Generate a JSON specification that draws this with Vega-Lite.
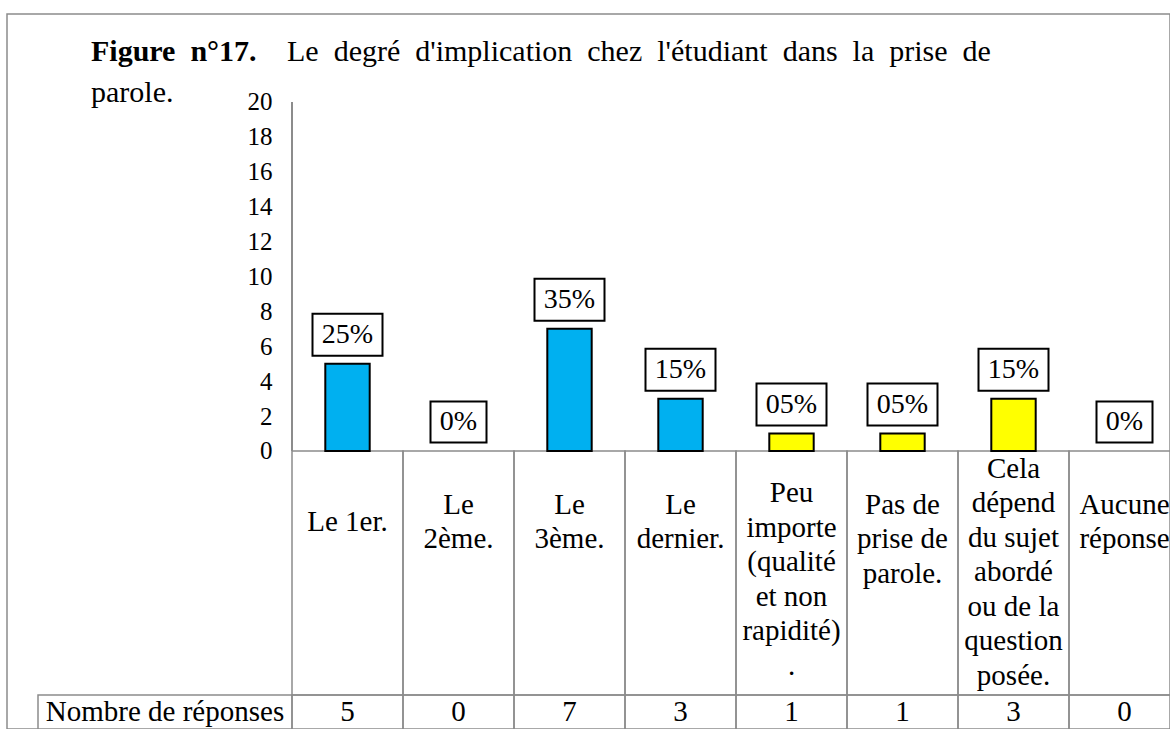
{
  "$schema": "https://vega.github.io/schema/vega-lite/v6.json",
  "width": 1163,
  "height": 715,
  "autosize": {"type": "none"},
  "padding": {"left": 7, "top": 14, "right": 0, "bottom": 0},
  "background": "white",
  "config": {
    "view": {"stroke": "#8c8c8c", "strokeWidth": 1.5},
    "font": "Liberation Serif, Times New Roman, serif"
  },
  "title": {
    "text": "Figure\u00a0 n°17.",
    "subtitle": "parole.",
    "anchor": "start",
    "frame": "group",
    "orient": "top",
    "offset": -94,
    "dx": 84,
    "font": "Liberation Serif, Times New Roman, serif",
    "fontSize": 30,
    "fontWeight": "bold",
    "color": "black",
    "subtitleFont": "Liberation Serif, Times New Roman, serif",
    "subtitleFontSize": 30,
    "subtitleFontWeight": "normal",
    "subtitleColor": "black",
    "subtitlePadding": 11
  },
  "datasets": {
    "reponses": [
      {"cat": "Le 1er.", "label": ["Le 1er."], "n": 5, "pct": "25%", "groupe": "rang"},
      {"cat": "Le 2ème.", "label": ["Le", "2ème."], "n": 0, "pct": "0%", "groupe": "rang"},
      {"cat": "Le 3ème.", "label": ["Le", "3ème."], "n": 7, "pct": "35%", "groupe": "rang"},
      {"cat": "Le dernier.", "label": ["Le", "dernier."], "n": 3, "pct": "15%", "groupe": "rang"},
      {"cat": "Peu importe (qualité et non rapidité).", "label": ["Peu", "importe", "(qualité", "et non", "rapidité)", "."], "n": 1, "pct": "05%", "groupe": "autre"},
      {"cat": "Pas de prise de parole.", "label": ["Pas de", "prise de", "parole."], "n": 1, "pct": "05%", "groupe": "autre"},
      {"cat": "Cela dépend du sujet abordé ou de la question posée.", "label": ["Cela", "dépend", "du sujet", "abordé", "ou de la", "question", "posée."], "n": 3, "pct": "15%", "groupe": "autre"},
      {"cat": "Aucune réponse", "label": ["Aucune", "réponse"], "n": 0, "pct": "0%", "groupe": "autre"}
    ]
  },
  "layer": [
    {
      "data": {"values": [{"legende": "Le\u00a0 degré\u00a0 d'implication\u00a0 chez\u00a0 l'étudiant\u00a0 dans\u00a0 la\u00a0 prise\u00a0 de"}]},
      "mark": {"type": "text", "align": "left", "baseline": "top", "fontSize": 30, "font": "Liberation Serif, Times New Roman, serif", "color": "black"},
      "encoding": {
        "x": {"field": "legende", "type": "nominal", "bandPosition": 0, "axis": null,
              "scale": {"type": "band", "range": [280, 1163], "paddingInner": 0, "paddingOuter": 0}},
        "y": {"datum": 23.7, "type": "quantitative", "scale": {"domain": [-15.93, 25.04], "nice": false, "zero": false},
              "axis": {"values": [0, 2, 4, 6, 8, 10, 12, 14, 16, 18, 20], "offset": -285, "labelPadding": 20, "ticks": false, "domain": false, "grid": false, "labelFont": "Liberation Serif, Times New Roman, serif", "labelFontSize": 25, "labelColor": "black", "labelOverlap": false, "title": null}},
        "text": {"field": "legende", "type": "nominal"}
      }
    },
    {
      "data": {"values": [{"entete": "Nombre de réponses"}]},
      "encoding": {
        "x": {"field": "entete", "type": "nominal", "axis": null,
              "scale": {"type": "band", "domain": ["Nombre de réponses"], "range": [31, 285], "paddingInner": 0, "paddingOuter": 0}}
      },
      "layer": [
        {
          "mark": {"type": "rect", "fill": "transparent", "stroke": "#8c8c8c", "strokeWidth": 1.5},
          "encoding": {
            "y": {"datum": -13.98, "type": "quantitative", "scale": {"domain": [-15.93, 25.04], "nice": false, "zero": false},
                  "axis": {"values": [0, 2, 4, 6, 8, 10, 12, 14, 16, 18, 20], "offset": -285, "labelPadding": 20, "ticks": false, "domain": false, "grid": false, "labelFont": "Liberation Serif, Times New Roman, serif", "labelFontSize": 25, "labelColor": "black", "labelOverlap": false, "title": null}},
            "y2": {"datum": -17}
          }
        },
        {
          "mark": {"type": "text", "baseline": "middle", "align": "center", "fontSize": 29, "font": "Liberation Serif, Times New Roman, serif", "color": "black"},
          "encoding": {
            "y": {"datum": -14.96, "type": "quantitative", "scale": {"domain": [-15.93, 25.04], "nice": false, "zero": false},
                  "axis": {"values": [0, 2, 4, 6, 8, 10, 12, 14, 16, 18, 20], "offset": -285, "labelPadding": 20, "ticks": false, "domain": false, "grid": false, "labelFont": "Liberation Serif, Times New Roman, serif", "labelFontSize": 25, "labelColor": "black", "labelOverlap": false, "title": null}},
            "text": {"field": "entete", "type": "nominal"}
          }
        }
      ]
    },
    {
      "data": {"name": "reponses"},
      "encoding": {
        "x": {"field": "cat", "type": "nominal", "sort": null, "axis": null,
              "scale": {"type": "band", "domain": ["Le 1er.", "Le 2ème.", "Le 3ème.", "Le dernier.", "Peu importe (qualité et non rapidité).", "Pas de prise de parole.", "Cela dépend du sujet abordé ou de la question posée.", "Aucune réponse"],
                        "range": [285, 1173], "paddingInner": 0, "paddingOuter": 0}}
      },
      "layer": [
        {
          "mark": {"type": "rect", "fill": "transparent", "stroke": "#8c8c8c", "strokeWidth": 1.5},
          "encoding": {
            "y": {"datum": 0, "type": "quantitative", "scale": {"domain": [-15.93, 25.04], "nice": false, "zero": false},
                  "axis": {"values": [0, 2, 4, 6, 8, 10, 12, 14, 16, 18, 20], "offset": -285, "labelPadding": 20, "ticks": false, "domain": false, "grid": false, "labelFont": "Liberation Serif, Times New Roman, serif", "labelFontSize": 25, "labelColor": "black", "labelOverlap": false, "title": null}},
            "y2": {"datum": -13.98}
          }
        },
        {
          "mark": {"type": "rect", "fill": "transparent", "stroke": "#8c8c8c", "strokeWidth": 1.5},
          "encoding": {
            "y": {"datum": -13.98, "type": "quantitative", "scale": {"domain": [-15.93, 25.04], "nice": false, "zero": false},
                  "axis": {"values": [0, 2, 4, 6, 8, 10, 12, 14, 16, 18, 20], "offset": -285, "labelPadding": 20, "ticks": false, "domain": false, "grid": false, "labelFont": "Liberation Serif, Times New Roman, serif", "labelFontSize": 25, "labelColor": "black", "labelOverlap": false, "title": null}},
            "y2": {"datum": -17}
          }
        },
        {
          "mark": {"type": "rule", "stroke": "#8c8c8c", "strokeWidth": 1.5},
          "encoding": {
            "x": {"datum": "Le 1er.", "type": "nominal", "bandPosition": 0},
            "y": {"datum": 0, "type": "quantitative", "scale": {"domain": [-15.93, 25.04], "nice": false, "zero": false},
                  "axis": {"values": [0, 2, 4, 6, 8, 10, 12, 14, 16, 18, 20], "offset": -285, "labelPadding": 20, "ticks": false, "domain": false, "grid": false, "labelFont": "Liberation Serif, Times New Roman, serif", "labelFontSize": 25, "labelColor": "black", "labelOverlap": false, "title": null}},
            "y2": {"datum": 20}
          }
        },
        {
          "transform": [{"filter": "datum.n > 0"}],
          "mark": {"type": "bar", "width": {"band": 0.4}, "stroke": "black", "strokeWidth": 2},
          "encoding": {
            "y": {"field": "n", "type": "quantitative", "scale": {"domain": [-15.93, 25.04], "nice": false, "zero": false},
                  "axis": {"values": [0, 2, 4, 6, 8, 10, 12, 14, 16, 18, 20], "offset": -285, "labelPadding": 20, "ticks": false, "domain": false, "grid": false, "labelFont": "Liberation Serif, Times New Roman, serif", "labelFontSize": 25, "labelColor": "black", "labelOverlap": false, "title": null}},
            "y2": {"datum": 0},
            "color": {"field": "groupe", "type": "nominal", "legend": null,
                      "scale": {"domain": ["rang", "autre"], "range": ["#00B0F0", "#FFFF00"]}}
          }
        },
        {
          "mark": {"type": "point", "filled": true, "fill": "white", "stroke": "black", "strokeWidth": 2, "opacity": 1, "yOffset": -29},
          "encoding": {
            "y": {"field": "n", "type": "quantitative", "scale": {"domain": [-15.93, 25.04], "nice": false, "zero": false},
                  "axis": {"values": [0, 2, 4, 6, 8, 10, 12, 14, 16, 18, 20], "offset": -285, "labelPadding": 20, "ticks": false, "domain": false, "grid": false, "labelFont": "Liberation Serif, Times New Roman, serif", "labelFontSize": 25, "labelColor": "black", "labelOverlap": false, "title": null}},
            "shape": {"condition": {"test": "datum.pct === '0%'", "value": "M-1,-0.732H1V0.732H-1Z"}, "value": "M-1,-0.6H1V0.6H-1Z"},
            "size": {"condition": {"test": "datum.pct === '0%'", "value": 3136}, "value": 4900}
          }
        },
        {
          "mark": {"type": "text", "baseline": "middle", "align": "center", "fontSize": 28, "font": "Liberation Serif, Times New Roman, serif", "color": "black", "yOffset": -29},
          "encoding": {
            "y": {"field": "n", "type": "quantitative", "scale": {"domain": [-15.93, 25.04], "nice": false, "zero": false},
                  "axis": {"values": [0, 2, 4, 6, 8, 10, 12, 14, 16, 18, 20], "offset": -285, "labelPadding": 20, "ticks": false, "domain": false, "grid": false, "labelFont": "Liberation Serif, Times New Roman, serif", "labelFontSize": 25, "labelColor": "black", "labelOverlap": false, "title": null}},
            "text": {"field": "pct", "type": "nominal"}
          }
        },
        {
          "transform": [{"filter": "length(datum.label) == 1"}],
          "mark": {"type": "text", "baseline": "middle", "align": "center", "fontSize": 29, "font": "Liberation Serif, Times New Roman, serif", "color": "black", "lineHeight": 34.5},
          "encoding": {
            "y": {"datum": -4.07, "type": "quantitative", "scale": {"domain": [-15.93, 25.04], "nice": false, "zero": false},
                  "axis": {"values": [0, 2, 4, 6, 8, 10, 12, 14, 16, 18, 20], "offset": -285, "labelPadding": 20, "ticks": false, "domain": false, "grid": false, "labelFont": "Liberation Serif, Times New Roman, serif", "labelFontSize": 25, "labelColor": "black", "labelOverlap": false, "title": null}},
            "text": {"field": "label", "type": "nominal"}
          }
        },
        {
          "transform": [{"filter": "length(datum.label) == 2 || length(datum.label) == 3"}],
          "mark": {"type": "text", "baseline": "middle", "align": "center", "fontSize": 29, "font": "Liberation Serif, Times New Roman, serif", "color": "black", "lineHeight": 34.5},
          "encoding": {
            "y": {"datum": -3.09, "type": "quantitative", "scale": {"domain": [-15.93, 25.04], "nice": false, "zero": false},
                  "axis": {"values": [0, 2, 4, 6, 8, 10, 12, 14, 16, 18, 20], "offset": -285, "labelPadding": 20, "ticks": false, "domain": false, "grid": false, "labelFont": "Liberation Serif, Times New Roman, serif", "labelFontSize": 25, "labelColor": "black", "labelOverlap": false, "title": null}},
            "text": {"field": "label", "type": "nominal"}
          }
        },
        {
          "transform": [{"filter": "length(datum.label) == 6"}],
          "mark": {"type": "text", "baseline": "middle", "align": "center", "fontSize": 29, "font": "Liberation Serif, Times New Roman, serif", "color": "black", "lineHeight": 34.5},
          "encoding": {
            "y": {"datum": -2.41, "type": "quantitative", "scale": {"domain": [-15.93, 25.04], "nice": false, "zero": false},
                  "axis": {"values": [0, 2, 4, 6, 8, 10, 12, 14, 16, 18, 20], "offset": -285, "labelPadding": 20, "ticks": false, "domain": false, "grid": false, "labelFont": "Liberation Serif, Times New Roman, serif", "labelFontSize": 25, "labelColor": "black", "labelOverlap": false, "title": null}},
            "text": {"field": "label", "type": "nominal"}
          }
        },
        {
          "transform": [{"filter": "length(datum.label) == 7"}],
          "mark": {"type": "text", "baseline": "middle", "align": "center", "fontSize": 29, "font": "Liberation Serif, Times New Roman, serif", "color": "black", "lineHeight": 34.5},
          "encoding": {
            "y": {"datum": -1.03, "type": "quantitative", "scale": {"domain": [-15.93, 25.04], "nice": false, "zero": false},
                  "axis": {"values": [0, 2, 4, 6, 8, 10, 12, 14, 16, 18, 20], "offset": -285, "labelPadding": 20, "ticks": false, "domain": false, "grid": false, "labelFont": "Liberation Serif, Times New Roman, serif", "labelFontSize": 25, "labelColor": "black", "labelOverlap": false, "title": null}},
            "text": {"field": "label", "type": "nominal"}
          }
        },
        {
          "mark": {"type": "text", "baseline": "middle", "align": "center", "fontSize": 29, "font": "Liberation Serif, Times New Roman, serif", "color": "black"},
          "encoding": {
            "y": {"datum": -14.96, "type": "quantitative", "scale": {"domain": [-15.93, 25.04], "nice": false, "zero": false},
                  "axis": {"values": [0, 2, 4, 6, 8, 10, 12, 14, 16, 18, 20], "offset": -285, "labelPadding": 20, "ticks": false, "domain": false, "grid": false, "labelFont": "Liberation Serif, Times New Roman, serif", "labelFontSize": 25, "labelColor": "black", "labelOverlap": false, "title": null}},
            "text": {"field": "n", "type": "quantitative"}
          }
        }
      ]
    }
  ],
  "resolve": {"scale": {"x": "independent"}}
}
